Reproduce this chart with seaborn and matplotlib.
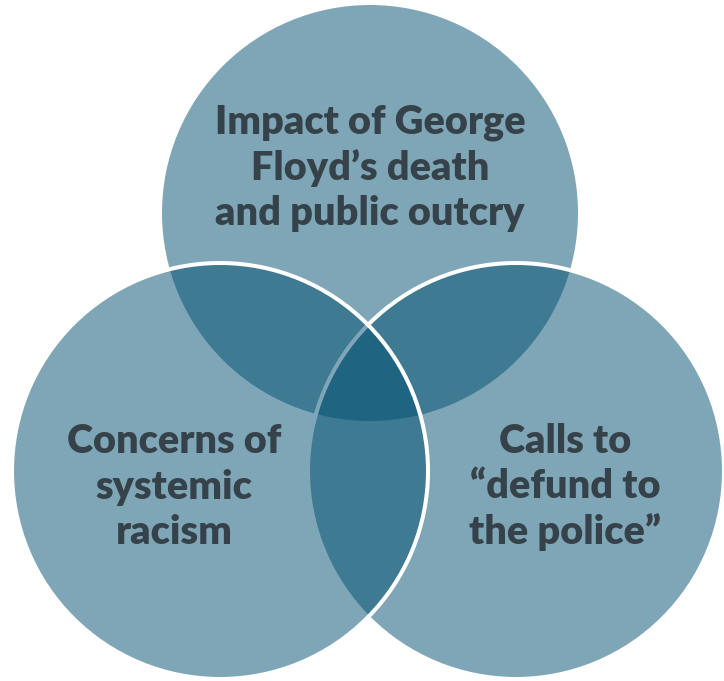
import matplotlib
matplotlib.use("Agg")
import matplotlib.pyplot as plt
from matplotlib.patches import Circle
import seaborn as sns

# Data: set labels
labels = [
    "Impact of George\nFloyd\u2019s death\nand public outcry",
    "Calls to\n\u201cdefund to\nthe police\u201d",
    "Concerns of\nsystemic\nracism",
]

sns.set_theme(style="white")
plt.rcParams['font.family'] = ['Lato', 'DejaVu Sans']

W, H = 724, 681
fig = plt.figure(figsize=(W / 100, H / 100), dpi=100)
ax = fig.add_axes([0, 0, 1, 1])
ax.set_xlim(0, W)
ax.set_ylim(H, 0)
ax.set_aspect("equal")
ax.axis("off")

fill_color = (0 / 255, 79 / 255, 113 / 255)
r = 208
centers = [(370, 213), (516, 471), (220, 471)]   # top, right, left
text_pos = [(370, 168), (565, 487), (174, 487)]
edges = [False, True, True]

for (cx, cy), edge in zip(centers, edges):
    ax.add_patch(Circle((cx, cy), r, facecolor=fill_color, edgecolor="none",
                        alpha=0.5, zorder=1))
    if edge:
        ax.add_patch(Circle((cx, cy), r, facecolor="none", edgecolor="white",
                            linewidth=2.9, zorder=1))

for lab, (tx, ty) in zip(labels, text_pos):
    ax.text(tx, ty, lab, ha="center", va="center", fontsize=28.5,
            fontweight="heavy", color="#36424a", linespacing=1.27, zorder=5)

fig.savefig("out.png", dpi=100)
